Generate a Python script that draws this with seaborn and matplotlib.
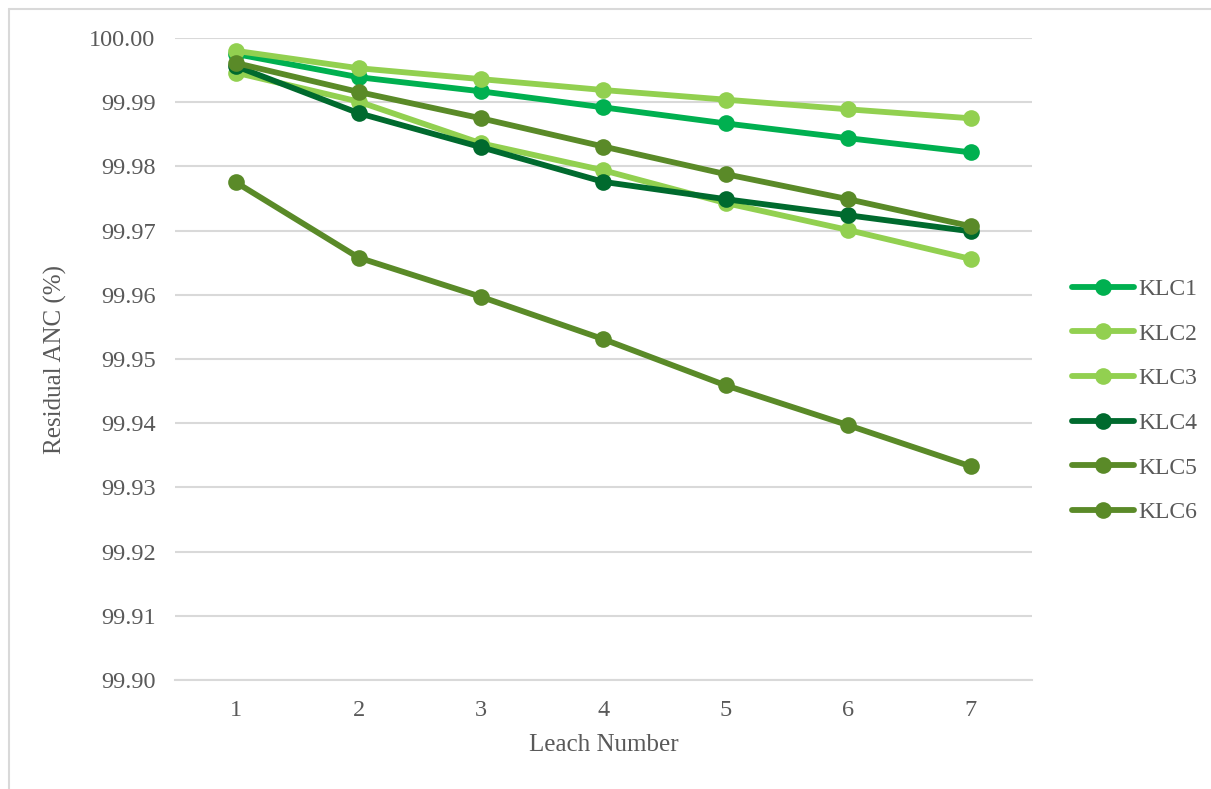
import matplotlib
matplotlib.use("Agg")
import matplotlib.pyplot as plt
import pandas as pd
import seaborn as sns
from matplotlib.lines import Line2D

leach = [1, 2, 3, 4, 5, 6, 7]
series_names = ["KLC1", "KLC2", "KLC3", "KLC4", "KLC5", "KLC6"]
klc1 = [99.9975, 99.9939, 99.9917, 99.9892, 99.9867, 99.9844, 99.9822]
klc2 = [99.9980, 99.9953, 99.9936, 99.9919, 99.9904, 99.9889, 99.9875]
klc3 = [99.9946, 99.9901, 99.9836, 99.9794, 99.9743, 99.9701, 99.9656]
klc4 = [99.9956, 99.9883, 99.9830, 99.9776, 99.9749, 99.9724, 99.9699]
klc5 = [99.9961, 99.9916, 99.9875, 99.9831, 99.9788, 99.9749, 99.9707]
klc6 = [99.9775, 99.9658, 99.9597, 99.9531, 99.9459, 99.9397, 99.9333]
colors = ["#00B050", "#92D050", "#92D050", "#006A2E", "#5A8A28", "#5A8A28"]

df = pd.concat(
    [pd.DataFrame({"leach": leach, "anc": vals, "series": name})
     for name, vals in zip(series_names, [klc1, klc2, klc3, klc4, klc5, klc6])],
    ignore_index=True,
)

sns.set_theme(style="white")
plt.rcParams["font.family"] = ["Liberation Serif", "DejaVu Serif"]

fig = plt.figure(figsize=(12.11, 7.89), dpi=100)
ax = fig.add_axes([0.1445, 0.138, 0.7075, 0.8138])

for name, col in zip(series_names, colors):
    sns.lineplot(data=df[df["series"] == name], x="leach", y="anc", ax=ax,
                 color=col, linewidth=4.2, marker="o", markersize=12,
                 markeredgewidth=0, label=name)

ax.set_xlim(0.5, 7.5)
ax.set_ylim(99.90, 100.00)
ax.set_xticks(leach)
ax.set_yticks([99.90 + 0.01 * i for i in range(11)])
ax.set_yticklabels([f"{99.90 + 0.01 * i:.2f}" for i in range(11)])
ax.grid(axis="y", color="#D9D9D9", linewidth=1.5)
ax.set_axisbelow(True)
for s in ["top", "right", "left"]:
    ax.spines[s].set_visible(False)
ax.spines["bottom"].set_color("#D9D9D9")
ax.spines["bottom"].set_linewidth(1.5)
ax.tick_params(axis="both", length=0, labelsize=17.5, colors="#595959", pad=14)

ax.set_xlabel("Leach Number", fontsize=18, color="#595959", labelpad=10)
ax.set_ylabel("Residual ANC (%)", fontsize=18, color="#595959", labelpad=16)

handles, labels = ax.get_legend_handles_labels()
ax.legend_.remove()
fig.legend(handles, labels, loc="center left", bbox_to_anchor=(0.868, 0.492),
           frameon=False, fontsize=17, labelcolor="#595959",
           handlelength=2.6, handletextpad=0.2, labelspacing=0.98)

# chart-area border: only left and top edges are visible
fx, fy = 8.5 / 1211, 1 - 8.5 / 789
fig.add_artist(Line2D([fx, fx], [0, fy], transform=fig.transFigure, color="#D9D9D9", linewidth=1.5))
fig.add_artist(Line2D([fx, 1], [fy, fy], transform=fig.transFigure, color="#D9D9D9", linewidth=1.5))

fig.savefig("out.png", dpi=100, facecolor="white")
